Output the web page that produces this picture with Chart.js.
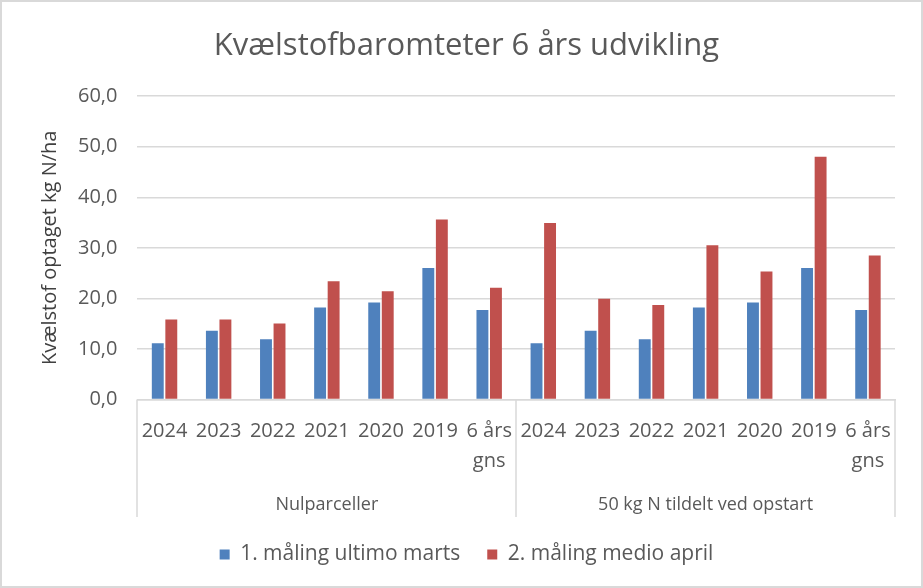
<!DOCTYPE html>
<html>
<head>
<meta charset="utf-8">
<script src="https://cdn.jsdelivr.net/npm/chart.js@4.4.1/dist/chart.umd.min.js"></script>
<style>
  html, body { margin: 0; padding: 0; background: #fff; }
  #wrap { position: relative; width: 923px; height: 588px; box-sizing: border-box; border: 2px solid #d9d9d9; }
</style>
</head>
<body>
<div id="wrap"><canvas id="chart"></canvas></div>
<script>
// labels and values
const years = ['2024', '2023', '2022', '2021', '2020', '2019', ['6 års', 'gns']];
const groups = ['Nulparceller', '50 kg N tildelt ved opstart'];
const yTicks = [0, 10, 20, 30, 40, 50, 60];

const maalingMarts = [11.1, 13.6, 11.9, 18.2, 19.2, 26.0, 17.7,
                      11.1, 13.6, 11.9, 18.2, 19.2, 26.0, 17.7];
const maalingApril = [15.8, 15.8, 15.0, 23.4, 21.4, 35.6, 22.1,
                      34.9, 19.9, 18.7, 30.5, 25.3, 48.0, 28.5];

const labels = groups.flatMap(() => years);

const fontFam = '"Open Sans", Lato, sans-serif';
const textCol = '#595959';
const gridCol = '#d9d9d9';

// vertical separators between the two groups, down through both label rows
const groupLines = {
  id: 'groupLines',
  afterDraw(chart) {
    const x = chart.scales.x, x2 = chart.scales.x2;
    const half = (x.getPixelForValue(1) - x.getPixelForValue(0)) / 2;
    const c = chart.ctx;
    c.save();
    c.strokeStyle = gridCol;
    c.lineWidth = 1.5;
    for (let i = 0; i <= labels.length; i += years.length) {
      const px = Math.round(x.getPixelForValue(Math.min(i, labels.length - 1)) + (i === labels.length ? half : -half));
      c.beginPath();
      c.moveTo(px, x.top);
      c.lineTo(px, x2.bottom);
      c.stroke();
    }
    c.restore();
  }
};

const ctx = document.getElementById('chart').getContext('2d');
new Chart(ctx, {
  type: 'bar',
  data: {
    labels: labels,
    datasets: [
      { label: '1. måling ultimo marts', data: maalingMarts, backgroundColor: '#4f81bd', xAxisID: 'x' },
      { label: '2. måling medio april', data: maalingApril, backgroundColor: '#c0504d', xAxisID: 'x' }
    ]
  },
  options: {
    responsive: true,
    maintainAspectRatio: false,
    animation: false,
    datasets: { bar: { categoryPercentage: 0.5, barPercentage: 0.88 } },
    layout: { padding: { left: 36, right: 26, top: 12, bottom: 11 } },
    plugins: {
      title: {
        display: true,
        text: 'Kvælstofbaromteter 6 års udvikling',
        color: textCol,
        font: { family: fontFam, size: 31, weight: 'normal' },
        padding: { top: 14, bottom: 31 }
      },
      legend: {
        position: 'bottom',
        labels: {
          color: textCol,
          font: { family: fontFam, size: 21 },
          boxWidth: 10,
          boxHeight: 10,
          padding: 27
        }
      },
      tooltip: { enabled: false }
    },
    scales: {
      y: {
        min: 0,
        max: 60,
        afterBuildTicks: (s) => { s.ticks = yTicks.map(v => ({ value: v })); },
        ticks: {
          color: textCol,
          font: { family: fontFam, size: 20 },
          padding: 20,
          callback: (v) => v.toFixed(1).replace('.', ',')
        },
        grid: { color: gridCol, lineWidth: 1.5, drawTicks: false },
        border: { display: false },
        title: {
          display: true,
          text: 'Kvælstof optaget kg N/ha',
          color: '#404040',
          font: { family: fontFam, size: 20 },
          padding: { top: 0, bottom: -4 }
        }
      },
      x: {
        offset: true,
        ticks: {
          color: textCol,
          font: { family: fontFam, size: 20, lineHeight: 1.5 },
          maxRotation: 0,
          autoSkip: false,
          padding: 9
        },
        grid: { display: false },
        border: { color: gridCol, width: 1.5 }
      },
      x2: {
        type: 'category',
        position: 'bottom',
        labels: groups,
        offset: true,
        ticks: {
          color: textCol,
          font: { family: fontFam, size: 18 },
          padding: 1
        },
        grid: { display: false },
        border: { display: false }
      }
    }
  },
  plugins: [groupLines]
});
</script>
</body>
</html>
